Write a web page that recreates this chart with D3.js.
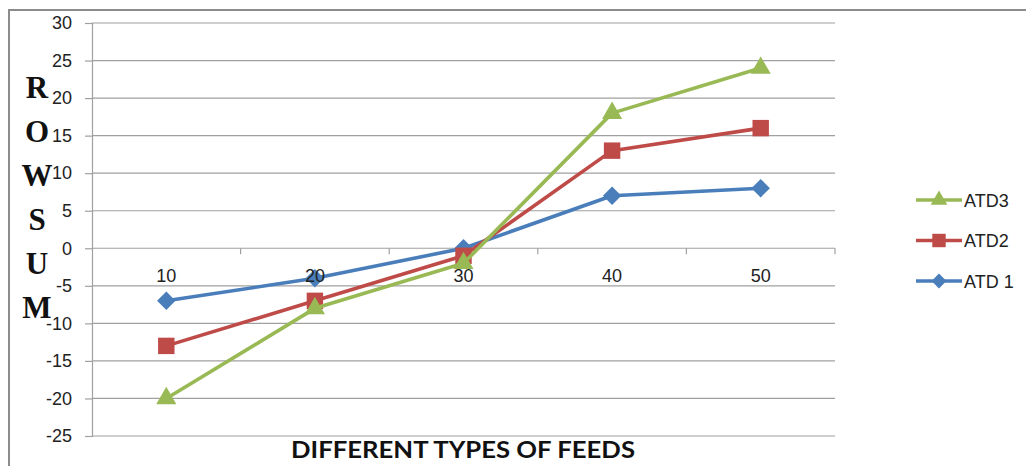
<!DOCTYPE html>
<html>
<head>
<meta charset="utf-8">
<script src="https://cdn.jsdelivr.net/npm/d3@7"></script>
<style>
  html, body { margin: 0; padding: 0; background: #fff; }
  svg { display: block; }
</style>
</head>
<body>
<svg id="chart" width="1026" height="466"></svg>
<script>
// Feed categories and row-sum values per series
const feeds = [10, 20, 30, 40, 50];
const atd1 = [-7, -4, 0, 7, 8];
const atd2 = [-13, -7, -1, 13, 16];
const atd3 = [-20, -8, -2, 18, 24];
const yTicks = [30, 25, 20, 15, 10, 5, 0, -5, -10, -15, -20, -25];
const titleLetters = ["R", "O", "W", "S", "U", "M"];

// Diamond drawn as a square turned 45 degrees
const diamond = {
  draw(ctx, size) {
    const r = Math.sqrt(size / 2);
    ctx.moveTo(0, -r); ctx.lineTo(r, 0); ctx.lineTo(0, r); ctx.lineTo(-r, 0); ctx.closePath();
  }
};

const series = [
  { name: "ATD 1", values: atd1, color: "#4A7EBB", symbol: diamond, size: 170, legendSize: 110 },
  { name: "ATD2", values: atd2, color: "#BE4B48", symbol: d3.symbolSquare, size: 270, legendSize: 180 },
  { name: "ATD3", values: atd3, color: "#98B954", symbol: d3.symbolTriangle, size: 175, legendSize: 120 }
];

const svg = d3.select("#chart");
const plot = { left: 92, right: 835, top: 23, bottom: 436 };
const labelFont = "Liberation Sans, Arial, sans-serif";

// Outer chart frame
svg.append("rect")
  .attr("x", 9).attr("y", 10)
  .attr("width", 1040).attr("height", 480)
  .attr("fill", "none").attr("stroke", "#8c8c8c").attr("stroke-width", 2);

const x = d3.scaleBand().domain(feeds).range([plot.left, plot.right]);
const y = d3.scaleLinear().domain([-25, 30]).range([plot.bottom, plot.top]);

// Horizontal gridlines
svg.append("g").selectAll("line").data(yTicks).join("line")
  .attr("x1", plot.left).attr("x2", plot.right)
  .attr("y1", d => y(d)).attr("y2", d => y(d))
  .attr("stroke", "#a0a0a0").attr("stroke-width", 1.2);

// Value axis
const yAxis = svg.append("g")
  .attr("transform", `translate(${plot.left},0)`)
  .call(d3.axisLeft(y).tickValues(yTicks).tickFormat(d => String(d)).tickSize(7).tickPadding(13));
yAxis.select(".domain").attr("stroke", "#a0a0a0").attr("stroke-width", 1.2);
yAxis.selectAll(".tick line").attr("stroke", "#a0a0a0").attr("stroke-width", 1.2);
yAxis.selectAll(".tick text")
  .attr("font-family", labelFont)
  .attr("font-size", 18).attr("fill", "#222");

// Category boundary tick marks on the zero line
const bounds = feeds.map(f => x(f)).concat([plot.right]).slice(1);
svg.append("g").selectAll("line").data(bounds).join("line")
  .attr("x1", d => d).attr("x2", d => d)
  .attr("y1", y(0)).attr("y2", y(0) + 6)
  .attr("stroke", "#a0a0a0").attr("stroke-width", 1.2);

const cx = d => x(d) + x.bandwidth() / 2;
const line = d3.line().x(d => cx(d[0])).y(d => y(d[1]));

// Series lines and markers
series.forEach(s => {
  const pts = feeds.map((f, i) => [f, s.values[i]]);
  svg.append("path")
    .datum(pts)
    .attr("d", line)
    .attr("fill", "none")
    .attr("stroke", s.color)
    .attr("stroke-width", 3.6)
    .attr("stroke-linejoin", "round");
  svg.append("g").selectAll("path").data(pts).join("path")
    .attr("transform", d => `translate(${cx(d[0])},${y(d[1])})`)
    .attr("d", d3.symbol().type(s.symbol).size(s.size))
    .attr("fill", s.color);
});

// Category axis along zero line, labels drawn over the series
const xAxis = svg.append("g")
  .attr("transform", `translate(0,${y(0)})`)
  .call(d3.axisBottom(x).tickSize(0).tickPadding(21));
xAxis.select(".domain").remove();
xAxis.selectAll(".tick text")
  .attr("font-family", labelFont)
  .attr("font-size", 18).attr("fill", "#222");

// Vertical axis title, stacked letters
svg.append("g").selectAll("text").data(titleLetters).join("text")
  .attr("x", 37)
  .attr("y", (d, i) => 98 + i * 44)
  .attr("text-anchor", "middle")
  .attr("font-family", "Liberation Serif, Times New Roman, serif")
  .attr("font-weight", "bold")
  .attr("font-size", 31)
  .attr("fill", "#111")
  .text(d => d);

// Horizontal axis title
svg.append("text")
  .attr("x", 463).attr("y", 458)
  .attr("text-anchor", "middle")
  .attr("font-family", "Lato, Open Sans, sans-serif")
  .attr("font-weight", "bold")
  .attr("font-size", 22)
  .attr("textLength", 344)
  .attr("lengthAdjust", "spacingAndGlyphs")
  .attr("fill", "#111")
  .text("DIFFERENT TYPES OF FEEDS");

// Legend
const legendItems = [series[2], series[1], series[0]];
const lg = svg.append("g").selectAll("g").data(legendItems).join("g")
  .attr("transform", (d, i) => `translate(916,${200 + i * 40.5})`);
lg.append("line")
  .attr("x1", 0).attr("x2", 46).attr("y1", 0).attr("y2", 0)
  .attr("stroke", d => d.color).attr("stroke-width", 3.6);
lg.append("path")
  .attr("transform", "translate(23,0)")
  .attr("d", d => d3.symbol().type(d.symbol).size(d.legendSize)())
  .attr("fill", d => d.color);
lg.append("text")
  .attr("x", 48).attr("y", 6.5)
  .attr("font-family", labelFont)
  .attr("font-size", 18)
  .attr("fill", "#222")
  .text(d => d.name);
</script>
</body>
</html>
